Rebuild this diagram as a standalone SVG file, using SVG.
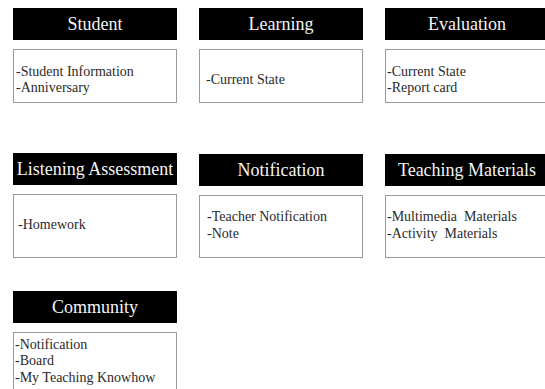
<svg xmlns="http://www.w3.org/2000/svg" width="545" height="389" viewBox="0 0 545 389">
<style>
.hd{fill:#000}
.bd{fill:#fff;stroke:#9a9a9a;stroke-width:1}
.ht{font-family:"Liberation Serif",serif;font-size:18px;fill:#f4f4f4;text-anchor:middle}
.bt{font-family:"Liberation Serif",serif;font-size:14px;fill:#2a2a2a;white-space:pre}
</style>
<rect width="545" height="389" fill="#fff"/>
<g id="student">
<rect class="hd" x="13" y="8" width="164" height="32"/>
<text class="ht" x="95" y="30">Student</text>
<rect class="bd" x="13.5" y="49.5" width="163" height="53"/>
<text class="bt" x="16" y="76">-Student Information</text>
<text class="bt" x="16" y="92">-Anniversary</text>
</g>
<g id="learning">
<rect class="hd" x="199" y="8" width="164" height="32"/>
<text class="ht" x="281" y="30">Learning</text>
<rect class="bd" x="199.5" y="49.5" width="163" height="53"/>
<text class="bt" x="206" y="84">-Current State</text>
</g>
<g id="evaluation">
<rect class="hd" x="385" y="8" width="164" height="32"/>
<text class="ht" x="467" y="30">Evaluation</text>
<rect class="bd" x="385.5" y="49.5" width="163" height="53"/>
<text class="bt" x="387" y="76">-Current State</text>
<text class="bt" x="387" y="92">-Report card</text>
</g>
<g id="listening">
<rect class="hd" x="13" y="153" width="164" height="32"/>
<text class="ht" x="95" y="175">Listening Assessment</text>
<rect class="bd" x="13.5" y="194.5" width="163" height="63"/>
<text class="bt" x="18" y="229">-Homework</text>
</g>
<g id="notification">
<rect class="hd" x="199" y="154" width="164" height="32"/>
<text class="ht" x="281" y="176">Notification</text>
<rect class="bd" x="199.5" y="195.5" width="163" height="62"/>
<text class="bt" x="207" y="221">-Teacher Notification</text>
<text class="bt" x="207" y="238">-Note</text>
</g>
<g id="teaching">
<rect class="hd" x="385" y="154" width="164" height="32"/>
<text class="ht" x="467" y="176">Teaching Materials</text>
<rect class="bd" x="385.5" y="195.5" width="163" height="62"/>
<text class="bt" x="387" y="221">-Multimedia  Materials</text>
<text class="bt" x="387" y="238">-Activity  Materials</text>
</g>
<g id="community">
<rect class="hd" x="13" y="291" width="164" height="32"/>
<text class="ht" x="95" y="313">Community</text>
<rect class="bd" x="13.5" y="332.5" width="163" height="63"/>
<text class="bt" x="15" y="349">-Notification</text>
<text class="bt" x="15" y="365">-Board</text>
<text class="bt" x="15" y="382">-My Teaching Knowhow</text>
</g>
<g id="connectors"></g>
</svg>
